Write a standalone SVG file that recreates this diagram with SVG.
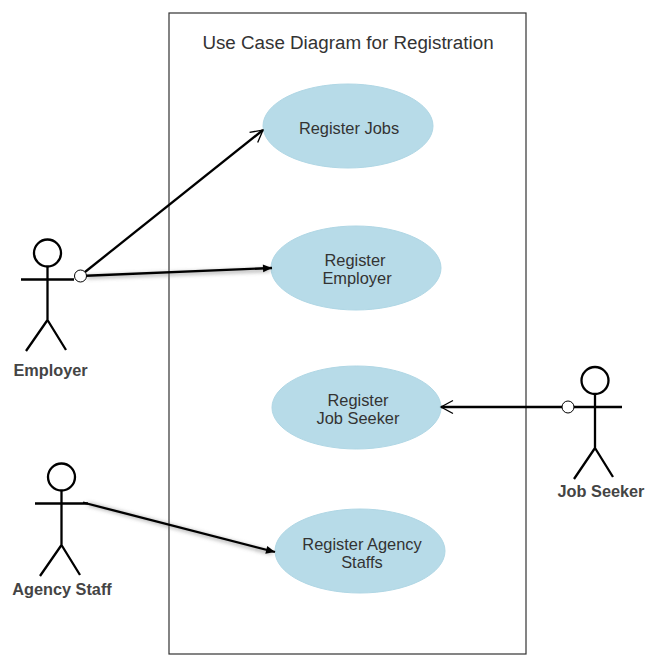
<svg xmlns="http://www.w3.org/2000/svg" width="652" height="666" viewBox="0 0 652 666">
<defs>
<marker id="open" markerUnits="userSpaceOnUse" markerWidth="16" markerHeight="16" refX="14" refY="8" orient="auto"><path d="M2 1.500L14 8L2 14.500" fill="none" stroke="#000" stroke-width="1.300"/></marker>
<marker id="solid" markerUnits="userSpaceOnUse" markerWidth="12" markerHeight="12" refX="10" refY="6" orient="auto"><path d="M1 2L10 6L1 10Z" fill="#000"/></marker>
<filter id="sh" x="-10%" y="-100%" width="120%" height="300%"><feGaussianBlur stdDeviation="2"/></filter>
</defs>
<style>
.uc{fill:#b7dbe8;stroke:#b0d7e5;stroke-width:1}
.t{font-family:"Liberation Sans",Arial,sans-serif;font-size:16.400px;fill:#333;text-anchor:middle}
.a{font-family:"Liberation Sans",Arial,sans-serif;font-size:16.300px;font-weight:bold;fill:#444;text-anchor:middle}
.fig{fill:none;stroke:#000;stroke-width:2.300}
.con{fill:none;stroke:#000;stroke-width:2.300}
.sh{fill:none;stroke:#777;stroke-width:2;filter:url(#sh)}
.lol{fill:#fff;stroke:#000;stroke-width:1}
</style>
<rect width="652" height="666" fill="#fff"/>
<g id="boundary">
<rect x="169" y="13" width="357" height="641" fill="none" stroke="#333" stroke-width="1.200"/>
<text x="348" y="48.500" text-anchor="middle" font-family="'Liberation Sans',Arial,sans-serif" font-size="18.800" fill="#333">Use Case Diagram for Registration</text>
</g>
<g id="uc-jobs"><ellipse class="uc" cx="348" cy="126" rx="85" ry="42"/><text class="t" x="349" y="133.500">Register Jobs</text></g>
<g id="uc-employer"><ellipse class="uc" cx="356" cy="268" rx="85" ry="42"/><text class="t" x="355" y="265.500">Register</text><text class="t" x="357" y="283.500">Employer</text></g>
<g id="uc-seeker"><ellipse class="uc" cx="356.500" cy="407.500" rx="84.500" ry="41.500"/><text class="t" x="358" y="405.500">Register</text><text class="t" x="358" y="423.500">Job Seeker</text></g>
<g id="uc-agency"><ellipse class="uc" cx="360" cy="551" rx="85" ry="42"/><text class="t" x="362" y="549.500">Register Agency</text><text class="t" x="362" y="567.500">Staffs</text></g>
<g id="actor-employer"><circle class="fig" cx="47.500" cy="253" r="13.500"/><path class="fig" d="M47.500 266.500V320M21 279.500H74M47.500 320L26 351M47.500 320L66 350"/><text class="a" x="50.500" y="375.800">Employer</text></g>
<g id="actor-agency"><circle class="fig" cx="61.500" cy="477" r="13.500"/><path class="fig" d="M61.500 490.500V545M35 503.500H88M61.500 545L40 576M61.500 545L80 575"/><text class="a" x="62" y="594.800">Agency Staff</text></g>
<g id="actor-seeker"><circle class="fig" cx="595" cy="380.500" r="13.500"/><path class="fig" d="M595 394V448M568 407H622M595 448L574 479M595 448L613 477"/><text class="a" x="601" y="496.800">Job Seeker</text></g>
<g id="connectors">
<path class="sh" d="M87 277L270 270"/>
<path class="sh" d="M88 504L272 553"/>
<path class="con" d="M85 272L263 130" marker-end="url(#open)"/>
<path class="con" d="M80 276L272 268" marker-end="url(#solid)"/>
<path class="con" d="M83 502.500L275 552" marker-end="url(#solid)"/>
<path class="con" d="M568 407H441" marker-end="url(#open)"/>
<circle class="lol" cx="80.500" cy="276" r="6"/>
<circle class="lol" cx="568" cy="407" r="6"/>
</g>
</svg>
